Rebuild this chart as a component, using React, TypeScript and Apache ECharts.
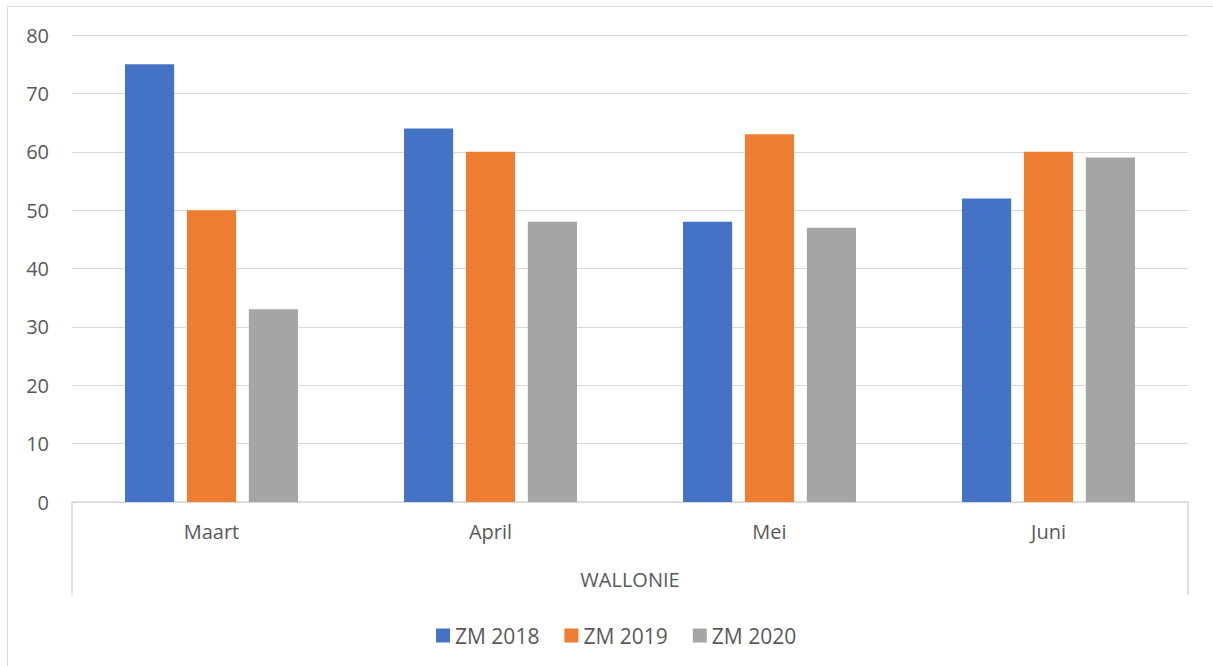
import React, { useEffect, useRef } from "react";
import * as echarts from "echarts";

const categories = ["Maart", "April", "Mei", "Juni"];
const outerCategory = ["WALLONIE"];
const seriesNames = ["ZM 2018", "ZM 2019", "ZM 2020"];
const zm2018 = [75, 64, 48, 52];
const zm2019 = [50, 60, 63, 60];
const zm2020 = [33, 48, 47, 59];
const colors = ["#4472C4", "#ED7D31", "#A5A5A5"];

export default function App() {
  const ref = useRef<HTMLDivElement>(null);
  useEffect(() => {
    if (!ref.current) return;
    const chart = echarts.init(ref.current, undefined, { renderer: "svg" });
    const font = "'Open Sans', 'Noto Sans', sans-serif";
    const values = [zm2018, zm2019, zm2020];
    chart.setOption({
      animation: false,
      textStyle: { fontFamily: font },
      grid: { left: 72, right: 25, top: 35, bottom: 164 },
      graphic: [
        {
          type: "rect",
          shape: { x: 7.5, y: 6.5, width: 1300, height: 700 },
          style: { fill: "none", stroke: "#d9d9d9", lineWidth: 1 },
          silent: true,
        },
      ],
      legend: {
        data: seriesNames,
        top: 620,
        left: 431,
        itemWidth: 14,
        itemHeight: 14,
        itemGap: 25,
        icon: "rect",
        textStyle: { color: "#595959", fontSize: 21, fontFamily: font },
      },
      xAxis: [
        {
          type: "category",
          data: categories,
          position: "bottom",
          axisLine: { show: true, lineStyle: { color: "#d9d9d9", width: 1.5 } },
          axisTick: { show: false },
          axisLabel: { color: "#595959", fontSize: 20, margin: 19, fontFamily: font },
        },
        {
          type: "category",
          data: outerCategory,
          position: "bottom",
          axisLine: { show: false },
          axisTick: { show: true, length: 93, lineStyle: { color: "#d9d9d9", width: 1.5 } },
          axisLabel: { color: "#595959", fontSize: 20, margin: 67, fontFamily: font },
        },
      ],
      yAxis: {
        type: "value",
        min: 0,
        max: 80,
        interval: 10,
        axisLine: { show: false },
        axisTick: { show: false },
        splitLine: { lineStyle: { color: "#d9d9d9", width: 1 } },
        axisLabel: { color: "#595959", fontSize: 20, margin: 23, fontFamily: font },
      },
      series: seriesNames.map((name, i) => ({
        name,
        type: "bar",
        xAxisIndex: 0,
        data: values[i],
        itemStyle: { color: colors[i] },
        barCategoryGap: "38%",
        barGap: "26%",
      })),
    });
    return () => chart.dispose();
  }, []);
  return (
    <div
      ref={ref}
      style={{ position: "fixed", left: 0, top: 0, width: 1213, height: 666, background: "#fff" }}
    />
  );
}
